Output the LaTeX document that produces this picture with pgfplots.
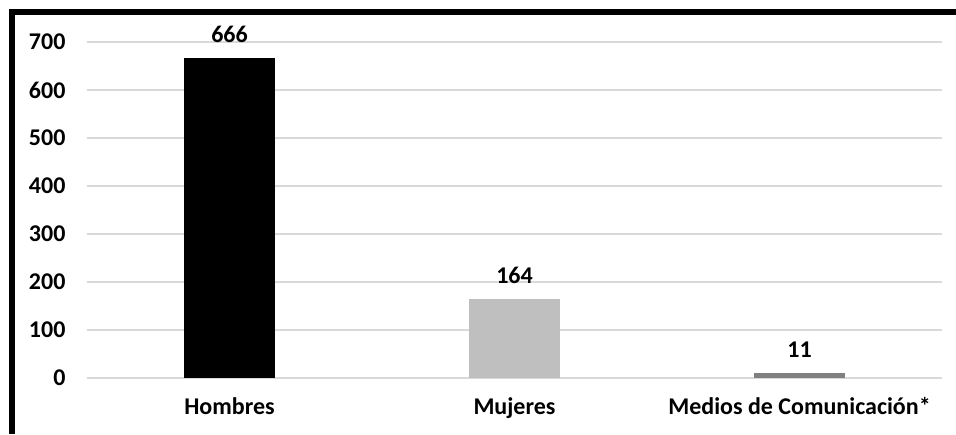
\documentclass[border=0pt]{standalone}
\usepackage{fontspec}
\setmainfont{Carlito}
\usepackage{pgfplots}
\pgfplotsset{compat=1.18}

\definecolor{gridgray}{HTML}{D9D9D9}
\definecolor{bargray}{HTML}{BFBFBF}
\definecolor{bardark}{HTML}{808080}

\begin{document}
\begin{tikzpicture}[x=1pt,y=1pt]
\useasboundingbox (0,0) rectangle (956,434);
\begin{axis}[
    at={(87pt,56pt)},
    anchor=south west,
    scale only axis,
    width=855pt,
    height=336pt,
    ybar,
    bar width=0.316,
    xmin=-0.5, xmax=2.5,
    ymin=0, ymax=700,
    xtick={0,1,2},
    xticklabels={Hombres, Mujeres, Medios de Comunicación*},
    ytick={0,100,...,700},
    axis line style={draw=none},
    major tick length=0pt,
    ymajorgrids=true,
    grid style={gridgray, line width=1.5pt},
    font=\fontsize{24}{28}\selectfont\bfseries,
    /pgf/number format/assume math mode=true,
    yticklabel style={xshift=-18pt},
    xticklabel style={yshift=-16pt},
    nodes near coords,
    every node near coord/.append style={yshift=12pt, black},
    clip=false,
]
\addplot[fill=black, draw=none, bar shift=0pt] coordinates {(0,666)};
\addplot[fill=bargray, draw=none, bar shift=0pt] coordinates {(1,164)};
\addplot[fill=bardark, draw=none, bar shift=0pt] coordinates {(2,11)};
\end{axis}
\draw[line width=6pt] (12,0) -- (12,422) -- (956,422);
\end{tikzpicture}
\end{document}
